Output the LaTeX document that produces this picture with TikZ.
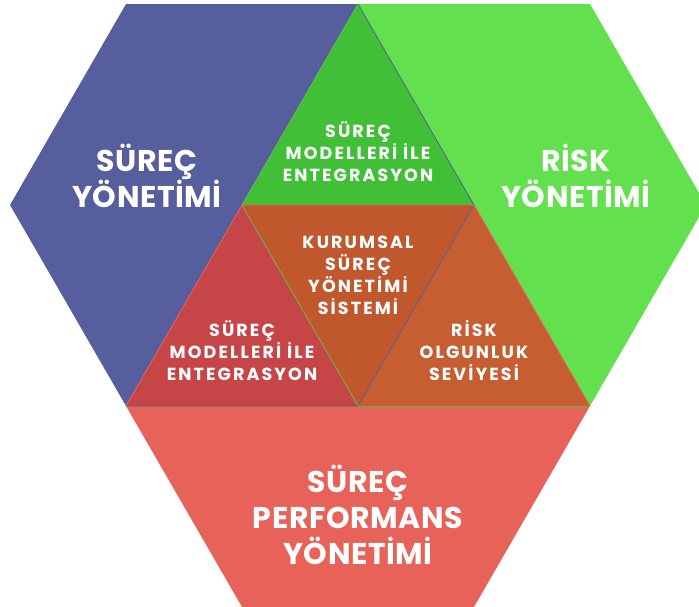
\documentclass[tikz,border=0pt]{standalone}
\usepackage{fontspec}
\setmainfont{Poppins}
\newfontfamily\titlefont{Poppins}[LetterSpace=2]
\newfontfamily\tagfont{Poppins}[LetterSpace=12]
\usepackage{tikz}
\usetikzlibrary{positioning}

\definecolor{surecblue}{HTML}{575E9D}
\definecolor{riskgreen}{HTML}{63E04D}
\definecolor{modelgreen}{HTML}{40BF37}
\definecolor{corebrown}{HTML}{C1572D}
\definecolor{modelred}{HTML}{C64547}
\definecolor{maturity}{HTML}{C75E31}
\definecolor{perfsalmon}{HTML}{E76359}

\begin{document}
\begin{tikzpicture}[
  x=1pt, y=-1pt,
  seam/.style={line width=0.8pt},
  title/.style={align=center, text=white, inner sep=0pt,
    font=\titlefont\bfseries\fontsize{30}{36}\selectfont},
  tag/.style={align=center, text=white, inner sep=0pt,
    font=\tagfont\bfseries\fontsize{17.5}{22}\selectfont}
]
\useasboundingbox (0,0) rectangle (699,606);
\clip (0,0) rectangle (699,606);

% lattice points
\coordinate (a1) at (126,4);
\coordinate (a2) at (358,4);
\coordinate (a3) at (590,4);
\coordinate (b0) at (10,205);
\coordinate (b1) at (242,205);
\coordinate (b2) at (474,205);
\coordinate (b3) at (706,205);
\coordinate (c1) at (126,406);
\coordinate (c2) at (358,406);
\coordinate (c3) at (590,406);
\coordinate (d1) at (242,607);
\coordinate (d2) at (474,607);

% outer pieces
\fill[surecblue] (a1) -- (a2) -- (b1) -- (c1) -- (b0) -- cycle;
\fill[riskgreen] (a2) -- (a3) -- (b3) -- (c3) -- (b2) -- cycle;
\fill[perfsalmon] (c1) -- (c3) -- (d2) -- (d1) -- cycle;

% inner triangles
\fill[modelgreen] (a2) -- (b2) -- (b1) -- cycle;
\fill[corebrown] (b1) -- (b2) -- (c2) -- cycle;
\fill[modelred] (b1) -- (c2) -- (c1) -- cycle;
\fill[maturity] (b2) -- (c3) -- (c2) -- cycle;

% seams
\draw[seam, riskgreen!80!black!90] (a2) -- (b1) -- (c2);
\draw[seam, surecblue] (a2) -- (b2) -- (c2) -- (c1);
\draw[seam, perfsalmon] (c1) -- (b1) -- (b2) -- (c3);
\draw[seam, riskgreen!85!black] (c2) -- (c3);

% labels
\node[title] (surec) at (147,176) {SÜREÇ\\YÖNETİMİ};
\node[title] (risk) at (576,176) {RİSK\\YÖNETİMİ};
\node[title] (perf) at (358,515) {SÜREÇ\\PERFORMANS\\YÖNETİMİ};
\node[tag] (modeltop) at (358,152) {SÜREÇ\\MODELLERİ İLE\\ENTEGRASYON};
\node[tag] (core) at (358,275) {KURUMSAL\\SÜREÇ\\YÖNETİMİ\\SİSTEMİ};
\node[tag] (modelleft) at (242,351) {SÜREÇ\\MODELLERİ İLE\\ENTEGRASYON};
\node[tag] (olgunluk) at (474,351) {RİSK\\OLGUNLUK\\SEVİYESİ};
\end{tikzpicture}
\end{document}
